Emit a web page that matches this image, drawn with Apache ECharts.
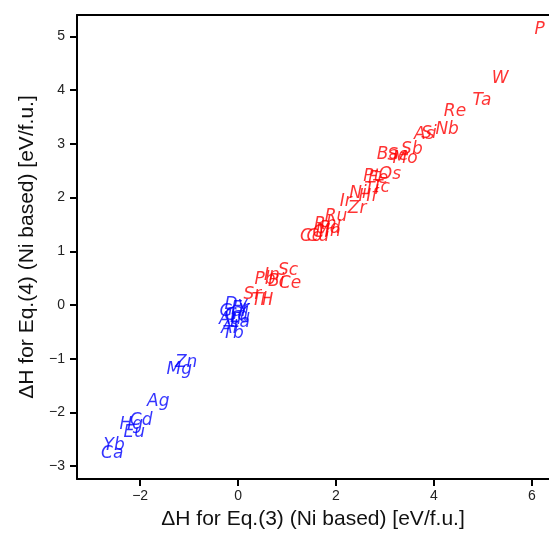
<!DOCTYPE html>
<html>
<head>
<meta charset="utf-8">
<script src="https://cdn.jsdelivr.net/npm/echarts@6/dist/echarts.min.js"></script>
<style>
  html, body { margin: 0; padding: 0; background: #fff; }
  #chart { width: 549px; height: 539px; }
</style>
</head>
<body>
<div id="chart"></div>
<script>
// positive formation energies (red labels)
const redNames = ['P', 'W', 'Ta', 'Re', 'Nb', 'As', 'Si', 'Sb', 'Ba', 'Se', 'Mo', 'Os', 'Pt', 'Fe', 'Tc', 'Ti', 'Ni', 'Hf', 'Ir', 'Zr', 'Ru', 'Rh', 'Pd', 'Cr', 'Mn', 'Co', 'Cu', 'Sc', 'In', 'Ce', 'Pb', 'Bi', 'Sr', 'Tl', 'H'];
const redX = [6.16, 5.35, 4.98, 4.43, 4.27, 3.80, 3.90, 3.55, 3.06, 3.27, 3.41, 3.10, 2.73, 2.86, 2.92, 2.73, 2.45, 2.65, 2.20, 2.43, 2.00, 1.78, 1.88, 1.71, 1.84, 1.49, 1.63, 1.02, 0.69, 1.06, 0.55, 0.78, 0.29, 0.43, 0.59];
const redY = [5.12, 4.22, 3.81, 3.61, 3.26, 3.18, 3.20, 2.90, 2.81, 2.79, 2.73, 2.42, 2.40, 2.36, 2.18, 2.14, 2.08, 2.01, 1.93, 1.80, 1.64, 1.49, 1.43, 1.34, 1.36, 1.28, 1.27, 0.65, 0.54, 0.39, 0.47, 0.43, 0.20, 0.09, 0.09];

// negative formation energies (blue labels)
const blueNames = ['Zn', 'Mg', 'Ag', 'Cd', 'Hg', 'Eu', 'Yb', 'Ca', 'Dy', 'Er', 'Ga', 'Gd', 'Lu', 'Y', 'Au', 'La', 'Al', 'Tb'];
const blueX = [-1.06, -1.20, -1.63, -1.98, -2.18, -2.12, -2.53, -2.57, -0.04, 0.04, -0.14, -0.04, 0.04, 0.12, -0.16, 0.04, -0.18, -0.10];
const blueY = [-1.08, -1.21, -1.80, -2.16, -2.23, -2.38, -2.62, -2.77, 0.00, -0.07, -0.13, -0.20, -0.24, -0.13, -0.28, -0.32, -0.43, -0.54];

const xTicks = [-2, 0, 2, 4, 6];
const yTicks = [-3, -2, -1, 0, 1, 2, 3, 4, 5];

const toPoints = (names, xs, ys) => names.map((n, i) => [xs[i], ys[i], n]);

const labelSeries = (data, color) => ({
  type: 'scatter',
  data: data,
  xAxisIndex: 0,
  yAxisIndex: 0,
  symbolSize: 1,
  itemStyle: { color: 'rgba(0,0,0,0)' },
  silent: true,
  label: {
    show: true,
    position: 'inside',
    formatter: (p) => p.data[2],
    color: color,
    fontFamily: 'DejaVu Sans',
    fontStyle: 'italic',
    fontSize: 17,
  },
});

const minus = (v) => String(v).replace('-', '\u2212');

const axisBase = {
  type: 'value',
  splitLine: { show: false },
  axisLine: { show: true, onZero: false, lineStyle: { color: '#000', width: 2 } },
  axisTick: { show: true, inside: false, length: 7, lineStyle: { color: '#000', width: 2 } },
  axisLabel: { color: '#222', fontFamily: 'Liberation Sans', fontSize: 14, formatter: minus },
  nameLocation: 'middle',
  nameTextStyle: { color: '#111', fontFamily: 'Liberation Sans', fontSize: 21 },
};

const chart = echarts.init(document.getElementById('chart'));
chart.setOption({
  animation: false,
  grid: { left: 77, right: 0, top: 15, bottom: 60 },
  xAxis: [
    {
      ...axisBase,
      min: -3.29,
      max: 6.35,
      name: 'ΔH for Eq.(3) (Ni based) [eV/f.u.]',
      nameGap: 30,
      axisTick: { ...axisBase.axisTick, customValues: xTicks },
      axisLabel: { ...axisBase.axisLabel, customValues: xTicks, margin: 10 },
    },
    {
      type: 'value',
      position: 'top',
      min: -3.29,
      max: 6.35,
      splitLine: { show: false },
      axisLine: { show: true, onZero: false, lineStyle: { color: '#000', width: 2 } },
      axisTick: { show: false },
      axisLabel: { show: false },
    },
  ],
  yAxis: {
    ...axisBase,
    min: -3.24,
    max: 5.4,
    name: 'ΔH for Eq.(4) (Ni based) [eV/f.u.]',
    nameGap: 36,
    axisTick: { ...axisBase.axisTick, customValues: yTicks },
    axisLabel: { ...axisBase.axisLabel, customValues: yTicks, margin: 12 },
  },
  series: [
    labelSeries(toPoints(redNames, redX, redY), '#ff0000'),
    labelSeries(toPoints(blueNames, blueX, blueY), '#0000ff'),
  ],
});
</script>
</body>
</html>
